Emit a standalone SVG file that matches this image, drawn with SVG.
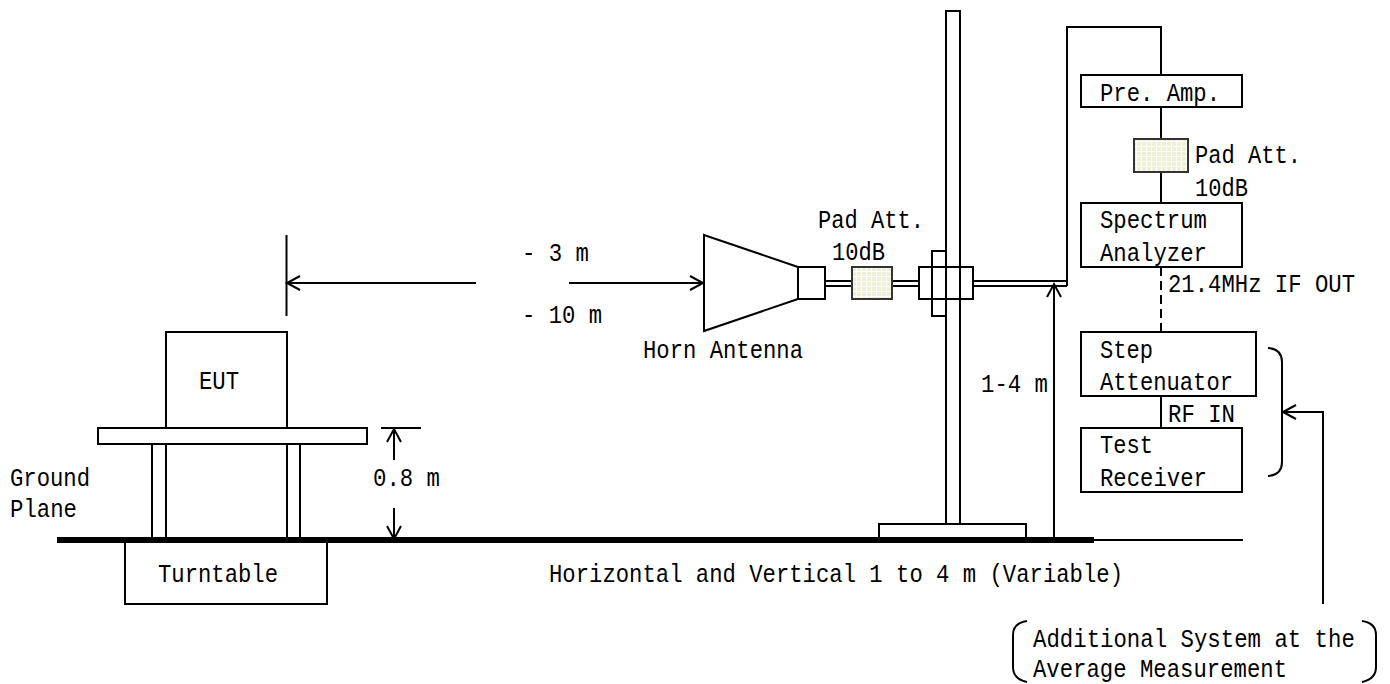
<svg xmlns="http://www.w3.org/2000/svg" width="1390" height="684" viewBox="0 0 1390 684">
<style>
.s{fill:none;stroke:#000;stroke-width:2}
.b{fill:#fff;stroke:#000;stroke-width:2}
.p{fill:url(#grid);stroke:#333;stroke-width:2}
text{font-family:"Liberation Mono","DejaVu Sans Mono",monospace;font-size:26px;fill:#000;white-space:pre}
</style>
<defs>
<pattern id="grid" patternUnits="userSpaceOnUse" width="5" height="5" x="1" y="1">
<rect width="5" height="5" fill="#f0f0d6"/>
<path d="M0,.5H5M.5,0V5" stroke="#fff" stroke-width="1"/>
</pattern>
<marker id="arr" markerUnits="userSpaceOnUse" markerWidth="18" markerHeight="18" refX="15" refY="8" orient="auto" overflow="visible">
<path d="M2,1L15,8L2,15" fill="none" stroke="#000" stroke-width="2"/>
</marker>
</defs>

<g id="connectors">
<path class="s" d="M476,283H287" marker-end="url(#arr)"/>
<path class="s" d="M569,283H703" marker-end="url(#arr)"/>
<path class="s" d="M286.500,235V316"/>
<path class="s" d="M825,281H852M825,286H852M892,281H919M892,286H919M973,281H1067M973,286H1067"/>
<path class="s" d="M1067,286V27H1161V74"/>
<path class="s" d="M1161,107V138M1161,172V203"/>
<path class="s" stroke-dasharray="9 5" d="M1161,267V332"/>
<path class="s" d="M1161,396V428"/>
<path class="s" d="M1054,540V284" marker-end="url(#arr)"/>
<path class="s" d="M1323,604V412H1283" marker-end="url(#arr)"/>
<path class="s" d="M381,428H421"/>
<path class="s" d="M394,460V429" marker-end="url(#arr)"/>
<path class="s" d="M394,508V539" marker-end="url(#arr)"/>
<path class="s" d="M1268,348Q1282,349 1282,362V462Q1282,475 1268,476"/>
<path class="s" d="M1027,621Q1013,623 1013,635V667Q1013,679 1027,682"/>
<path class="s" d="M1362,621Q1376,623 1376,635V667Q1376,679 1362,682"/>
</g>

<g id="mast">
<path class="s" d="M946,523V11H960V523"/>
<rect class="b" x="879" y="524" width="147" height="16"/>
</g>

<g id="clamp">
<path class="s" d="M946,251H932V316H946"/>
<rect class="s" x="919" y="267" width="54" height="32"/>
</g>

<g id="horn-antenna">
<path class="s" d="M704,235L798,267V299L704,331Z"/>
<rect class="s" x="798" y="267" width="27" height="32"/>
<text x="643" y="358" textLength="160" lengthAdjust="spacingAndGlyphs">Horn Antenna</text>
</g>

<g id="pad-att-1">
<rect class="p" x="852" y="267" width="40" height="32"/>
<text x="818" y="228" textLength="106" lengthAdjust="spacingAndGlyphs">Pad Att.</text>
<text x="832" y="260" textLength="53" lengthAdjust="spacingAndGlyphs">10dB</text>
</g>

<g id="pre-amp">
<rect class="s" x="1081" y="75" width="161" height="32"/>
<text x="1100" y="101" textLength="120" lengthAdjust="spacingAndGlyphs">Pre. Amp.</text>
</g>

<g id="pad-att-2">
<rect class="p" x="1134" y="139" width="54" height="33"/>
<text x="1195" y="163" textLength="106" lengthAdjust="spacingAndGlyphs">Pad Att.</text>
<text x="1195" y="196" textLength="53" lengthAdjust="spacingAndGlyphs">10dB</text>
</g>

<g id="spectrum-analyzer">
<rect class="s" x="1081" y="203" width="161" height="64"/>
<text x="1100" y="228" textLength="107" lengthAdjust="spacingAndGlyphs">Spectrum</text>
<text x="1100" y="261" textLength="107" lengthAdjust="spacingAndGlyphs">Analyzer</text>
</g>

<g id="step-attenuator">
<rect class="s" x="1081" y="332" width="175" height="64"/>
<text x="1100" y="358" textLength="53" lengthAdjust="spacingAndGlyphs">Step</text>
<text x="1100" y="390" textLength="133" lengthAdjust="spacingAndGlyphs">Attenuator</text>
</g>

<g id="test-receiver">
<rect class="s" x="1081" y="428" width="161" height="64"/>
<text x="1100" y="453" textLength="53" lengthAdjust="spacingAndGlyphs">Test</text>
<text x="1100" y="486" textLength="107" lengthAdjust="spacingAndGlyphs">Receiver</text>
</g>

<g id="eut">
<rect class="s" x="166" y="332" width="121" height="96"/>
<text x="199" y="389" textLength="40" lengthAdjust="spacingAndGlyphs">EUT</text>
</g>

<g id="table">
<rect class="s" x="98" y="428" width="269" height="16"/>
<path class="s" d="M152,444V538M166,444V538M287,444V538M300,444V538"/>
</g>

<g id="ground-plane">
<path d="M57,540H1094" stroke="#000" stroke-width="6"/>
<path class="s" d="M1094,540H1243"/>
</g>

<g id="turntable">
<rect class="s" x="125" y="540" width="202" height="64"/>
<text x="158" y="582" textLength="120" lengthAdjust="spacingAndGlyphs">Turntable</text>
</g>

<g id="labels">
<text x="522" y="261" textLength="67" lengthAdjust="spacingAndGlyphs">- 3 m</text>
<text x="522" y="323" textLength="80" lengthAdjust="spacingAndGlyphs">- 10 m</text>
<text x="10" y="486" textLength="80" lengthAdjust="spacingAndGlyphs">Ground</text>
<text x="10" y="517" textLength="67" lengthAdjust="spacingAndGlyphs">Plane</text>
<text x="373" y="486" textLength="67" lengthAdjust="spacingAndGlyphs">0.8 m</text>
<text x="549" y="582" textLength="574" lengthAdjust="spacingAndGlyphs">Horizontal and Vertical 1 to 4 m (Variable)</text>
<text x="981" y="392" textLength="67" lengthAdjust="spacingAndGlyphs">1-4 m</text>
<text x="1168" y="292" textLength="187" lengthAdjust="spacingAndGlyphs">21.4MHz IF OUT</text>
<text x="1168" y="422" textLength="67" lengthAdjust="spacingAndGlyphs">RF IN</text>
<text transform="translate(1033,647) scale(.86,1)">Additional System at the</text>
<text x="1033" y="677" textLength="254" lengthAdjust="spacingAndGlyphs">Average Measurement</text>
</g>
</svg>
